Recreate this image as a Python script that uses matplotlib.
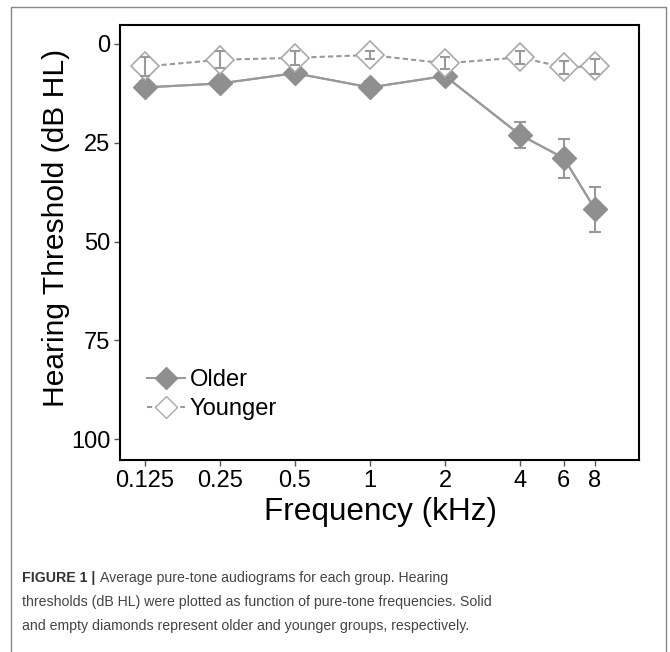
import matplotlib.pyplot as plt
from matplotlib.lines import Line2D

plt.rcParams['font.family'] = ['Liberation Sans', 'DejaVu Sans']

# Data (dB HL)
freqs = [0.125, 0.25, 0.5, 1, 2, 4, 6, 8]
freq_labels = ['0.125', '0.25', '0.5', '1', '2', '4', '6', '8']
older = [11.0, 10.0, 7.4, 11.0, 8.1, 23.0, 28.9, 41.8]
older_err = [1.5, 1.5, 1.5, 1.5, 1.5, 3.3, 4.9, 5.7]
younger = [5.7, 4.0, 3.5, 2.8, 4.9, 3.4, 5.9, 5.7]
younger_err = [2.5, 2.2, 1.7, 1.1, 1.5, 1.6, 1.6, 1.8]
yticks = [0, 25, 50, 75, 100]

fig = plt.figure(figsize=(6.70, 6.52), dpi=100)
W, H = 670, 652
ax = fig.add_axes([120 / W, 1 - 460 / H, (639 - 120) / W, (460 - 25) / H])

gray = '#999999'
# Older: solid diamonds, solid line
ax.errorbar(freqs, older, yerr=older_err, color=gray, lw=1.5, capsize=4,
            elinewidth=1.5, capthick=1.5, zorder=2)
ax.plot(freqs, older, color=gray, lw=1.5, marker='D', markersize=12,
        markerfacecolor='#8f8f8f', markeredgecolor='#8f8f8f', zorder=3)
# Younger: empty diamonds, dashed line
ax.plot(freqs, younger, color=gray, lw=1.5, ls=(0, (2.5, 1.5)), marker='D',
        markersize=14.5, markerfacecolor='white', markeredgecolor='#aaaaaa',
        markeredgewidth=1.2, zorder=4)
ax.errorbar(freqs, younger, yerr=younger_err, fmt='none', ecolor=gray,
            elinewidth=1.5, capsize=3.5, capthick=1.5, zorder=5)

ax.set_xscale('log', base=2)
ax.set_xlim(2 ** -3.333, 2 ** 3.587)
ax.set_xticks(freqs)
ax.set_xticklabels(freq_labels)
ax.minorticks_off()
ax.set_ylim(105.3, -4.8)
ax.set_yticks(yticks)

for s in ax.spines.values():
    s.set_linewidth(1.5)
    s.set_color('black')
ax.tick_params(axis='both', labelsize=17, length=4, width=1, color='#555555',
               direction='out', pad=3)

ax.set_xlabel('Frequency (kHz)', fontsize=22.7)
ax.xaxis.set_label_coords(0.501, -0.085)
ax.set_ylabel('Hearing Threshold (dB HL)', fontsize=21.6)
ax.yaxis.set_label_coords(-0.096, 0.533)

handles = [
    Line2D([], [], color=gray, lw=1.5, marker='D', markersize=11,
           markerfacecolor='#8f8f8f', markeredgecolor='#8f8f8f'),
    Line2D([], [], color=gray, lw=1.5, ls=(0, (2.5, 1.5)), marker='D', markersize=11,
           markerfacecolor='white', markeredgecolor='#aaaaaa'),
]
ax.legend(handles, ['Older', 'Younger'], loc='lower left',
          bbox_to_anchor=(0.021, 0.053), frameon=False, fontsize=17,
          handlelength=1.6, handletextpad=0.2, labelspacing=0.3, borderaxespad=0.3)

# outer frame (left, top, right)
fx = [11 / W, 11 / W, 666 / W, 666 / W]
fy = [0, 1 - 7 / H, 1 - 7 / H, 0]
fig.add_artist(Line2D(fx, fy, color='#888888', lw=1, transform=fig.transFigure))

# caption
cap_size = 10.2
cap_color = '#444444'
fig.text(22 / W, 1 - 578 / H, 'FIGURE 1 |', fontsize=cap_size, fontweight='bold',
         color='#333333', va='center', ha='left')
fig.text(100 / W, 1 - 578 / H, 'Average pure-tone audiograms for each group. Hearing',
         fontsize=cap_size, color=cap_color, va='center', ha='left')
fig.text(22 / W, 1 - 602 / H,
         'thresholds (dB HL) were plotted as function of pure-tone frequencies. Solid',
         fontsize=cap_size, color=cap_color, va='center', ha='left')
fig.text(22 / W, 1 - 626 / H,
         'and empty diamonds represent older and younger groups, respectively.',
         fontsize=cap_size, color=cap_color, va='center', ha='left')

fig.savefig('out.png', dpi=100)
